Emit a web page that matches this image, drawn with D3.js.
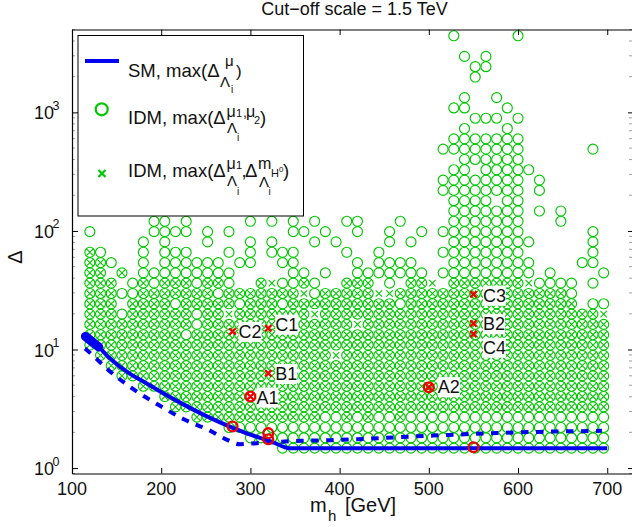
<!DOCTYPE html>
<html><head><meta charset="utf-8">
<script src="https://cdnjs.cloudflare.com/ajax/libs/d3/7.8.5/d3.min.js"></script>
<style>
html,body{margin:0;padding:0;background:#fff;overflow:hidden}
text{font-family:"Liberation Sans",Arial,sans-serif;fill:#111}
</style></head><body>
<svg id="c" width="632" height="527"></svg>
<script>
const massColumns=[120,132,144,156,168,180,192,204,216,228,240,252,264,276,288,300,312,324,336,348,360,372,384,396,408,420,432,444,456,468,480,492,504,516,528,540,552,564,576,588,600,612,624,636,648,660,672,684,696];
const deltaRows=[1.474,1.80,2.20,2.688,3.283,4.011,4.90,5.986,7.31,8.93,10.91,13.33,16.29,19.90,24.30,29.69,36.27,44.3,54.1,66.1,80.8,98.7,120.6,147.3,179.9,219.8,268.5,328,400.7,489.6,598,730.6,892.4,1090,1332,1627,1987,2428,2966,3624,4427];
// o circle only, x cross only, b both; one string per row (bottom to top), one letter per mass column
const scanRows=[
".......... ........oo oooooooooo oooooooooo ooooooooo",
".......... .....ooooo oooooooooo oooooooooo ooooooooo",
".......... ...ooooooo oooooooooo oooooooooo ooooooooo",
".......... bbbbbbbbbb bbooboboob oooooooooo ooooooooo",
"........bb bbbbbbbbbb bbbbbbbbbb bbbbbbbbbb bbbbbbbbb",
".......bbb bbbbbbbbbb bbbbbbbbbb bbbbbbbbbb bbbbbbbbb",
".....bbbbb bbbbbbbbbb bbbbbbbbbb bbbbbbbbbb bbbbbbbbb",
"...bbbbbbb bbbbbbbbbb bbbbbbbbbb bbbbbbbbbb bbbbbbbbb",
"..bbbbbbbb bbbbbbbbbb bbbbbbbbbb bbbbbbbbbb bbbbbbbbb",
".bbbbbbbbb bbbbbbbbbb bbbxbbbbbb bbbbbbbbbb bbbbbbbbb",
"bbbbbbbbbb bbbbbbbbbb bbbbbbbbbb bbbbbbbbbb bbbbbbbbb",
"bbbbbbbbbo bbbbbbbbbb bbbbbbbbbb bbbbbbbbbb bbbbbbbbb",
"bbbbbbbbbb obbbbbbbbb bbbbbxbbbb bbbbbbbbbb bbbbbbbbb",
"bbbobbbbbb obbxbbbbbb bxbbbbbbbb bbbbbbbbbb bbbbbbbbx",
"bbb.bbbbob bbbbobbbob bbbbbbbbbo bbbbbbbbbb bbbbbb.oo",
"bbboobbbbb bbobbbbbbb xobbbbbxxb bbbbbbbbbb bbbbbo...",
"bbb.obobbb obbo..bxoo bo..bbb.o. bbx.bbbbbb bxoooo.o.",
"bb.b.ooooo oooo.....o o.o..ooooo oo.ooooooo oo.o....o",
"bbo..o.ooo ooo.oo..oo .....o.ooo o...oooooo oo....oo.",
"bo...o.ooo ...o.o.ooo ....o..o.. ...ooooooo o......o.",
".....o.o.. .o...o.o.. .o.o....o. o...oooooo oo.....o.",
"o.....oooo .o.o.....o o.o..o..o. .o.ooooooo o......o.",
"......oo.o .....o.o.o .o..oo...o ....oooooo o...o....",
".......... .......... .......... ....oooooo o.o.o....",
".......... o......... .......... ....oooo.o o........",
".......... o....o.... .......... ...ooooooo o.o......",
".......... .......o.. .......... ...ooooooo o.o......",
".......... o..o...... .......... ....oo.ooo oo.......",
".......... .......... .......... .....ooooo o........",
".......... .......... .......... ...ooooooo o......o.",
".......... .......... .......... ....oooooo o........",
".......... .o........ .......... .....o...o .........",
".......... .......... .......... ......ooo. o........",
".......... .......... .......... ....oo...o .........",
".......... .......... .......... .....o..o. .........",
".......... .......... .......... .......... .........",
".......... .......... .......... ......o... .........",
".......... .......... .......... ......oo.. .........",
".......... .......... .......... .....o.o.. .........",
".......... .......... .......... .......... .........",
".......... .......... .......... ....o..... o........"
];
const smMass=[113,119,129.5,140.4,166.9,178.1,215.5,252.5,297.3,323,344.4,400,500,600,700];
const smDelta=[13.2,12,10.58,8.71,6.11,5.47,3.76,2.70,1.945,1.68,1.47,1.47,1.47,1.47,1.47];
const smBlobMass=[115,130];
const smBlobDelta=[12.9,10.5];
const dashMass=[114.6,116.5,129.5,140.7,168.7,198.7,224.8,254.7,271.5,288.3,307,357.5,391,504.7,598,694];
const dashDelta=[10.2,9.92,8.06,6.73,4.63,3.35,2.59,2.07,1.765,1.59,1.62,1.70,1.72,1.88,2.0,2.06];
const redCircleMass=[300,500,280,320,320,550];
const redCircleDelta=[4.01,4.81,2.24,1.97,1.75,1.50];
const redCrossMass=[300,500,320,280,320,550,550,550];
const redCrossDelta=[4.01,4.81,15.1,14.2,6.3,29.2,16.6,13.5];
const pointNames=["A1","A2","C1","C2","B1","C3","B2","C4"];
const pointMass=[300,500,320,280,320,550,550,550];
const pointDelta=[4.01,4.81,15.1,14.2,6.3,29.2,16.6,13.5];
const labelDx=[6,9,7,6,7,9.5,9.5,9.5];
const labelDy=[7,6,2.4,6.5,6.7,7.4,6.7,19.7];
const xTicks=[100,200,300,400,500,600,700];
const yTicks=[1,10,100,1000];
const yExp=[0,1,2,3];
const titleText="Cut\u2212off scale = 1.5 TeV";

const GREEN="#00c800",BLUE="#0000f0",RED="#f00000";
const svg=d3.select("#c");
const L=72,R=634,T=29.5,B=473.5;
const x=d3.scaleLinear().domain([100,730]).range([L,R]);
const y=d3.scaleLog().domain([0.9,5000]).range([B,T]);
const X=m=>x(m),Y=d=>y(d);

svg.append("defs").append("clipPath").attr("id","plot").append("rect").attr("x",L).attr("y",T).attr("width",R-L).attr("height",B-T);

// minor log ticks
const minor=[];
for(const dec of [0.1,1,10,100,1000])for(let m=2;m<=9;m++){const v=m*dec;if(v>=0.9&&v<=5000)minor.push(v);}
const gm=svg.append("g").attr("stroke","#777").attr("stroke-width",.7);
gm.selectAll("line.a").data(minor).join("line").attr("x1",L).attr("x2",L+3).attr("y1",Y).attr("y2",Y);
gm.selectAll("line.b").data(minor).join("line").attr("class","b").attr("x1",R-5).attr("x2",R).attr("y1",Y).attr("y2",Y);

const plot=svg.append("g").attr("clip-path","url(#plot)");
const cells=[];
scanRows.forEach((s,k)=>{const r=s.replace(/ /g,"");[...r].forEach((c,i)=>{if(c!==".")cells.push({m:massColumns[i],d:deltaRows[k],c});});});
plot.append("g").selectAll("circle").data(cells.filter(c=>c.c!=="x")).join("circle")
 .attr("cx",c=>X(c.m)).attr("cy",c=>Y(c.d)).attr("r",5).attr("fill","none").attr("stroke",GREEN).attr("stroke-width",1.15);
const cross=(sel,s)=>sel.attr("d",`M${-s},${-s}L${s},${s}M${-s},${s}L${s},${-s}`);
cross(plot.append("g").selectAll("path").data(cells.filter(c=>c.c!=="o")).join("path")
 .attr("transform",c=>`translate(${X(c.m)},${Y(c.d)})`).attr("fill","none").attr("stroke",GREEN).attr("stroke-width",1.1),3.2);

const line=d3.line().x(p=>X(p[0])).y(p=>Y(p[1]));
const zip=(a,b)=>a.map((v,i)=>[v,b[i]]);
plot.append("path").attr("d",line.curve(d3.curveMonotoneX)(zip(dashMass,dashDelta))).attr("fill","none").attr("stroke",BLUE).attr("stroke-width",4).attr("stroke-dasharray","7.5 7.5");
plot.append("path").attr("d",line.curve(d3.curveMonotoneX)(zip(smMass,smDelta))).attr("fill","none").attr("stroke",BLUE).attr("stroke-width",4);
plot.append("path").attr("d",line.curve(d3.curveLinear)(zip(smBlobMass,smBlobDelta))).attr("fill","none").attr("stroke",BLUE).attr("stroke-width",9).attr("stroke-linecap","round");

plot.append("g").selectAll("circle").data(zip(redCircleMass,redCircleDelta)).join("circle")
 .attr("cx",p=>X(p[0])).attr("cy",p=>Y(p[1])).attr("r",4.9).attr("fill","none").attr("stroke",RED).attr("stroke-width",2.3);
cross(plot.append("g").selectAll("path").data(zip(redCrossMass,redCrossDelta)).join("path")
 .attr("transform",p=>`translate(${X(p[0])},${Y(p[1])})`).attr("fill","none").attr("stroke",RED).attr("stroke-width",2.3),3.2);

// point labels
const labels=svg.append("g");
pointNames.forEach((n,i)=>{
  const g=labels.append("g");
  const t=g.append("text").attr("x",X(pointMass[i])+labelDx[i]).attr("y",Y(pointDelta[i])+labelDy[i]).attr("font-size",18).text(n);
  const b=t.node().getBBox();
  g.insert("rect","text").attr("x",b.x).attr("y",b.y).attr("width",b.width).attr("height",b.height).attr("fill","#fff");
});

// axes
const axis=(gen,tx,ty)=>{const g=svg.append("g").attr("transform",`translate(${tx},${ty})`).call(gen);g.selectAll("text").remove();g.selectAll("path").attr("stroke","#000").attr("stroke-width",1.2);g.selectAll("line").attr("stroke","#000");};
axis(d3.axisBottom(x).tickValues(xTicks).tickSize(-5.5).tickSizeOuter(0).tickFormat(""),0,B);
axis(d3.axisTop(x).tickValues(xTicks).tickSize(-5.5).tickSizeOuter(0).tickFormat(""),0,T);
axis(d3.axisRight(y).tickValues(yTicks).tickSize(6).tickSizeOuter(0).tickFormat(""),L,0);
axis(d3.axisLeft(y).tickValues(yTicks).tickSize(6).tickSizeOuter(0).tickFormat(""),R,0);

svg.append("g").selectAll("text").data(xTicks).join("text").attr("x",d=>X(d)).attr("y",495).attr("text-anchor","middle").attr("font-size",18).text(d=>d);
yTicks.forEach((v,i)=>{
  svg.append("text").attr("x",34).attr("y",Y(v)+7).attr("font-size",18).text("10");
  svg.append("text").attr("x",52.5).attr("y",Y(v)-2.5).attr("font-size",12.5).text(yExp[i]);
});

svg.append("text").attr("x",354.5).attr("y",14.5).attr("text-anchor","middle").attr("font-size",18).text(titleText);
svg.append("text").attr("transform","translate(22,257) rotate(-90)").attr("text-anchor","middle").attr("font-size",20).text("\u0394");
svg.append("text").attr("x",310).attr("y",512).attr("font-size",20).text("m");
svg.append("text").attr("x",328).attr("y",521).attr("font-size",15).text("h");
svg.append("text").attr("x",345).attr("y",512).attr("font-size",20).text("[GeV]");

// legend
const lg=svg.append("g");
lg.append("rect").attr("x",78).attr("y",35.5).attr("width",225.5).attr("height",180.5).attr("fill","#fff").attr("stroke","#000").attr("stroke-width",1);
lg.append("line").attr("x1",85).attr("x2",119).attr("y1",61).attr("y2",61).attr("stroke",BLUE).attr("stroke-width",4);
lg.append("circle").attr("cx",101.7).attr("cy",109.3).attr("r",6).attr("fill","none").attr("stroke",GREEN).attr("stroke-width",2.2);
cross(lg.append("path").attr("transform","translate(102,173.5)").attr("fill","none").attr("stroke",GREEN).attr("stroke-width",2.2),3.5);
const frag=[
 ["SM, max(\u0394",128,76.7,18.5],["\u03bc",225,66,15],["\u039b",220,87,15],["i",231,93,10],[")",236,76.7,17],
 ["IDM, max(\u0394",128,124,18.5],["\u03bc",226.5,116.5,16],["1",236,116.5,11],[",",243,117,14],["\u03bc",246,116.5,16],["2",254,124,11],[")",260,124,18.5],["\u039b",227,133,15],["i",237,141,10],
 ["IDM, max(\u0394",128,177,18.5],["\u03bc",226.5,168.5,16],["1",236,168.5,11],[",",241.5,177,18],["\u0394",245,177,18.5],["m",258,168.5,16],["H",271,177,11],["0",279,172,8],[")",283,177,18.5],["\u039b",227,186,15],["i",237,195,10],["\u039b",259,187,15],["i",268.5,195,10]
];
lg.selectAll("text").data(frag).join("text").attr("x",d=>d[1]).attr("y",d=>d[2]).attr("font-size",d=>d[3]).text(d=>d[0]);
</script></body></html>
